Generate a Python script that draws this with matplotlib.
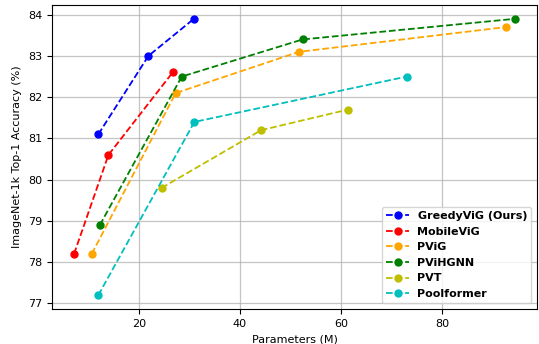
import matplotlib
matplotlib.use("Agg")
import matplotlib.pyplot as plt

greedy_x = [12.0, 21.9, 30.9]
greedy_y = [81.1, 83.0, 83.9]
mobile_x = [7.2, 14.0, 26.7]
mobile_y = [78.2, 80.6, 82.6]
pvig_x = [10.7, 27.3, 51.7, 92.6]
pvig_y = [78.2, 82.1, 83.1, 83.7]
pvihgnn_x = [12.3, 28.5, 52.4, 94.4]
pvihgnn_y = [78.9, 82.5, 83.4, 83.9]
pvt_x = [24.5, 44.2, 61.4]
pvt_y = [79.8, 81.2, 81.7]
pool_x = [12.0, 31.0, 73.0]
pool_y = [77.2, 81.4, 82.5]

series = [
    ("GreedyViG (Ours)", greedy_x, greedy_y, "blue"),
    ("MobileViG", mobile_x, mobile_y, "red"),
    ("PViG", pvig_x, pvig_y, "orange"),
    ("PViHGNN", pvihgnn_x, pvihgnn_y, "green"),
    ("PVT", pvt_x, pvt_y, "y"),
    ("Poolformer", pool_x, pool_y, "c"),
]

fig = plt.figure(figsize=(5.39, 3.44), dpi=100)
ax = fig.add_axes([52/539, 1 - 309/344, (537-52)/539, (309-5)/344])
for name, xs, ys, c in series:
    ax.plot(xs, ys, linestyle="--", marker="o", color=c, markersize=5, linewidth=1.3, label=name)

ax.grid(True, color="#b0b0b0", linewidth=0.9, alpha=0.75)
ax.set_axisbelow(True)
ax.tick_params(labelsize=8)
ax.set_xlabel("Parameters (M)", fontsize=8)
ax.set_ylabel("ImageNet-1k Top-1 Accuracy (%)", fontsize=8)
ax.legend(loc="lower right", prop={"weight": "bold", "size": 8})
fig.savefig("out.png", dpi=100)
